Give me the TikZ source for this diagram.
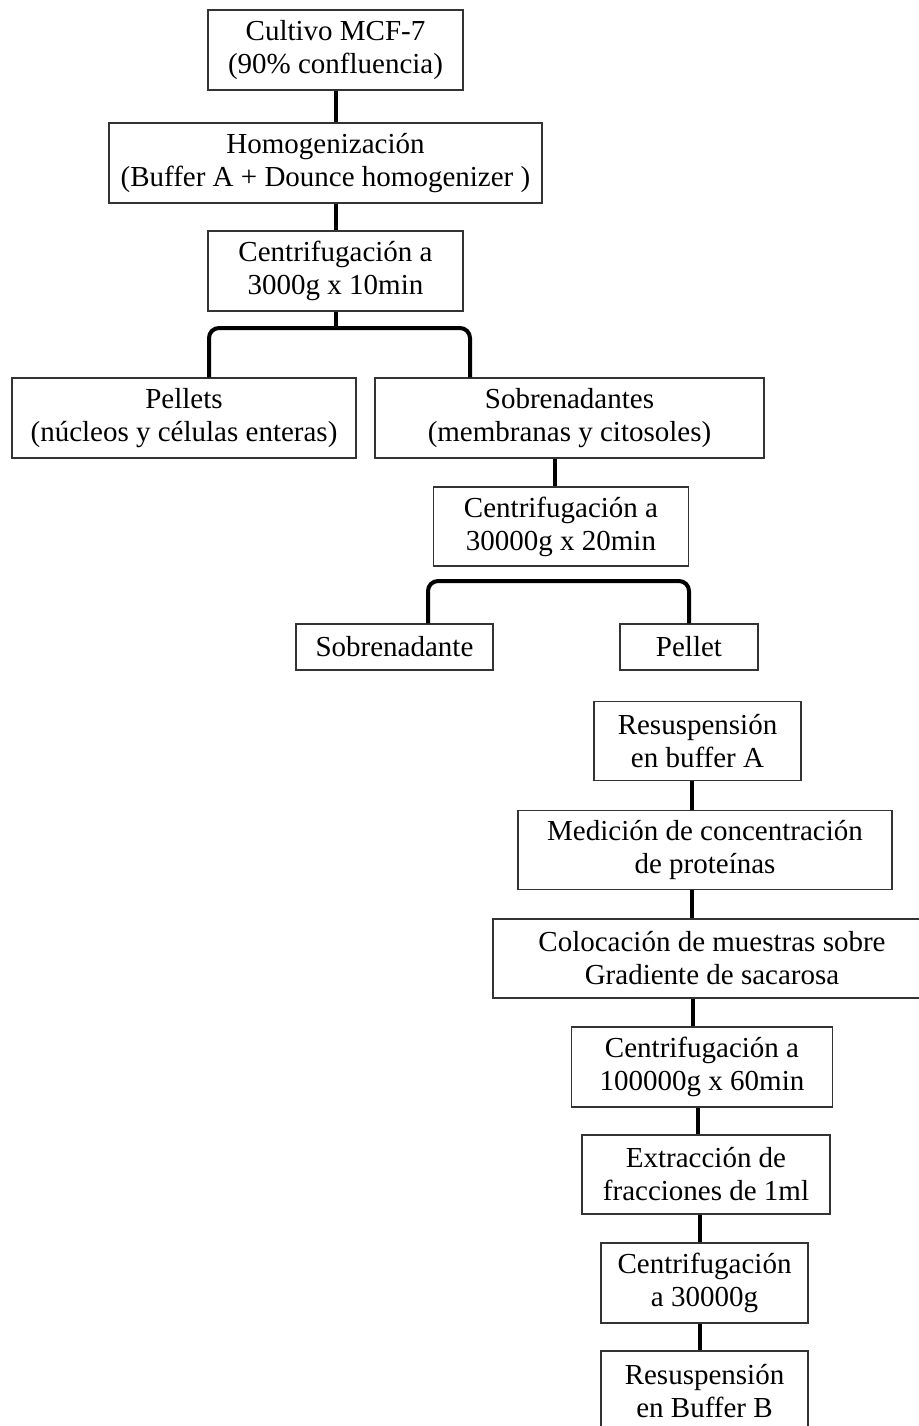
\documentclass[tikz,border=0pt]{standalone}
\usepackage{fontspec}
\setmainfont{Liberation Serif}
\tikzset{
  stage/.style={draw=black!80, line width=0.6pt, align=center, inner sep=0pt,
    minimum height=40pt, font=\fontsize{14.5}{16.5}\selectfont},
  link/.style={line width=2pt},
  fork/.style={line width=2pt, rounded corners=5pt}
}

\begin{document}
\begin{tikzpicture}[x=0.5pt, y=-0.5pt]
  \useasboundingbox (0,0) rectangle (919,1426);
  \clip (0,0) rectangle (919,1426);

  % First part
  \node[stage, minimum width=127.5pt] (cult) at (335.5,50) {Cultivo MCF-7\\(90\% confluencia)};
  \node[stage, minimum width=216.5pt] (homog) at (325.5,163) {Homogenización\\(Buffer A + Dounce homogenizer )};
  \node[stage, minimum width=127.5pt] (cent1) at (335.5,271) {Centrifugación a\\3000g x 10min};
  \node[stage, minimum width=172pt] (pell) at (184,418) {Pellets\\(núcleos y células enteras)};
  \node[stage, minimum width=194.5pt] (sobre) at (569.5,418) {Sobrenadantes\\(membranas y citosoles)};
  \node[stage, minimum width=127.5pt, minimum height=39.5pt] (cent2) at (561,526.5) {Centrifugación a\\30000g x 20min};
  \node[stage, minimum width=98.5pt, minimum height=23pt] (sobre2) at (394.5,647) {Sobrenadante};
  \node[stage, minimum width=69pt, minimum height=23pt] (pellet) at (689,647) {Pellet};

  % Second part
  \node[stage, minimum width=103.5pt, minimum height=39.5pt] (resA) at (697.5,741) {Resuspensión\\en buffer A};
  \node[stage, minimum width=187pt, minimum height=39.5pt] (medic) at (705,850) {Medición de concentración\\de proteínas};
  \node[stage, minimum width=219pt, minimum height=39.5pt] (coloc) at (712,958.5) {Colocación de muestras sobre\\Gradiente de sacarosa};
  \node[stage, minimum width=130.5pt] (cent3) at (702,1067) {Centrifugación a\\100000g x 60min};
  \node[stage, minimum width=124pt, minimum height=39.5pt] (extr) at (706,1174.5) {Extracción de\\fracciones de 1ml};
  \node[stage, minimum width=103.5pt] (cent4) at (704.5,1283) {Centrifugación\\a 30000g};
  \node[stage, minimum width=103.5pt] (resB) at (704.5,1391) {Resuspensión\\en Buffer B};

  % Links
  \foreach \a/\b/\x in {cult/homog/336, homog/cent1/336, sobre/cent2/555,
      resA/medic/692, medic/coloc/692, coloc/cent3/693, cent3/extr/698,
      extr/cent4/700, cent4/resB/700}
    \draw[link] (\a.south -| \x,0) -- (\b.north -| \x,0);

  % Splits
  \draw[link] (cent1.south) -- (cent1.south |- 0,328);
  \draw[fork] (pell.north -| 209,0) |- (cent1.south |- 0,328) -| (sobre.north -| 470,0);
  \draw[link] (cent2.south -| 556,0) -- (cent2.south -| 556,581);
  \draw[fork] (sobre2.north -| 428,0) |- (cent2.south |- 0,581) -| (pellet.north -| 689,0);
\end{tikzpicture}
\end{document}
